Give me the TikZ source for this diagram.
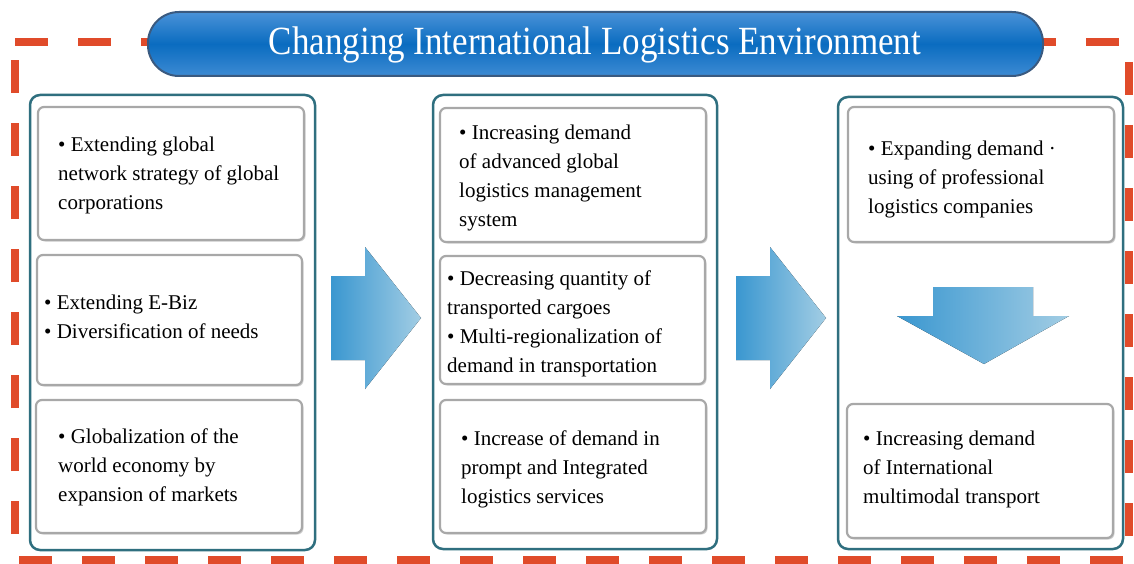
\documentclass[tikz,border=0pt]{standalone}
\usepackage{fontspec}
\setmainfont{Liberation Serif}
\usetikzlibrary{shadows}
\definecolor{dashred}{HTML}{E04B2A}
\definecolor{panelteal}{HTML}{2F6F7F}
\definecolor{boxgray}{HTML}{A8A8A8}
\definecolor{bannerblue}{HTML}{0A6CC0}
\definecolor{bannerlight}{HTML}{4A92D8}
\definecolor{bannerborder}{HTML}{3A5A80}
\definecolor{arrowdark}{HTML}{3A97D0}
\definecolor{arrowlight}{HTML}{A2CDE4}
\tikzset{
  panel/.style={draw=panelteal, line width=2.5pt, rounded corners=10pt, fill=white},
  itembox/.style={draw=boxgray, line width=2.2pt, rounded corners=6pt, fill=white,
    drop shadow={shadow xshift=1.5pt, shadow yshift=-1.5pt, opacity=0.35, fill=gray}},
  txt/.style={font=\fontsize{21}{29}\selectfont, align=left, anchor=west, inner sep=0pt, text=black},
  bigarrow/.style={left color=arrowdark, right color=arrowlight, draw=none},
}
\begin{document}
\begin{tikzpicture}[x=1pt,y=-1pt]
\useasboundingbox (0,0) rectangle (1134,564);
\fill[white] (0,0) rectangle (1134,564);
% red dashed frame
\draw[dashred, line width=8.5pt, dash pattern=on 33pt off 30pt] (15,42) -- (1129,42) -- (1129,560) -- (15,560) -- cycle;
% title banner
\draw[bannerborder, line width=2pt, top color=bannerlight, bottom color=bannerlight!80!bannerblue, middle color=bannerblue, rounded corners=31pt]
  (148,12) rectangle (1043,76);
\node[font=\fontsize{40}{44}\selectfont, text=white, inner sep=0pt] (title) at (595,45)
  {\scalebox{0.875}[1]{Changing International Logistics Environment}};
% panels
\draw[panel] (30,95) rectangle (315,550);
\draw[panel] (433,95) rectangle (717,549);
\draw[panel] (838,97) rectangle (1123,549);
% left boxes
\draw[itembox] (38,107) rectangle (304,240);
\draw[itembox] (37,255) rectangle (302,385);
\draw[itembox] (36,400) rectangle (302,533);
% middle boxes
\draw[itembox] (440,108) rectangle (706,242);
\draw[itembox] (440,256) rectangle (705,384);
\draw[itembox] (440,400) rectangle (706,533);
% right boxes
\draw[itembox] (848,107) rectangle (1114,242);
\draw[itembox] (847,404) rectangle (1113,538);
% arrows
\fill[bigarrow] (331,276) -- (365,276) -- (365,247) -- (421,318) -- (365,389) -- (365,360) -- (331,360) -- cycle;
\fill[bigarrow] (736,276) -- (770,276) -- (770,247) -- (826,318) -- (770,389) -- (770,360) -- (736,360) -- cycle;
\fill[bigarrow] (933,287) -- (1033,287) -- (1033,316) -- (1069,316) -- (984,364) -- (897,316) -- (933,316) -- cycle;
% texts
\node[txt] (l1) at (58,175) {• Extending global\\network strategy of global\\corporations};
\node[txt] (l2) at (44,317) {• Extending E-Biz\\• Diversification of needs};
\node[txt] (l3) at (58,467) {• Globalization of the\\world economy by\\expansion of markets};
\node[txt] (m1) at (459,178) {• Increasing demand\\of advanced global\\logistics management\\system};
\node[txt] (m2) at (447,324) {• Decreasing quantity of\\transported cargoes\\• Multi-regionalization of\\demand in transportation};
\node[txt] (m3) at (461,469) {• Increase of demand in\\prompt and Integrated\\logistics services};
\node[txt] (r1) at (868,179) {• Expanding demand ·\\using of professional\\logistics companies};
\node[txt] (r2) at (863,469) {• Increasing demand\\of International\\multimodal transport};
\end{tikzpicture}
\end{document}
